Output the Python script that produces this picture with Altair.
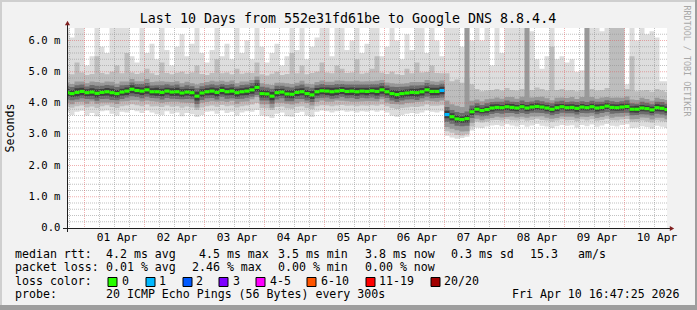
import altair as alt
import pandas as pd

# ---------------- texts ----------------
TITLE = "Last 10 Days from 552e31fd61be to Google DNS 8.8.4.4"
Y_TITLE = "Seconds"
WATERMARK = "RRDTOOL / TOBI OETIKER"

# ---------------- axes ----------------
# time in hours relative to 2026-04-01 00:00
T_START = -7.0
T_END = 233.0
Y_MAX = 6.4
DAY_LABELS = ["01 Apr", "02 Apr", "03 Apr", "04 Apr", "05 Apr",
              "06 Apr", "07 Apr", "08 Apr", "09 Apr", "10 Apr"]
DAY_LABEL_HOURS = [12, 36, 60, 84, 108, 132, 156, 180, 204, 228]
Y_TICKS = [0, 1, 2, 3, 4, 5, 6]
Y_TICK_LABELS = ["0.0", "1.0 m", "2.0 m", "3.0 m", "4.0 m", "5.0 m", "6.0 m"]

# ---------------- data (2 h bins from Mar 31 16:00) ----------------
BIN_START = -8
BIN_HOURS = 2

MED = [
    4.33, 4.30, 4.34, 4.37, 4.33, 4.35, 4.31, 4.34, 4.36, 4.33,
    4.30, 4.35, 4.38, 4.44, 4.40, 4.38, 4.42, 4.36, 4.36, 4.34,
    4.38, 4.35, 4.36, 4.32, 4.35, 4.33, 4.22, 4.32, 4.36, 4.38,
    4.34, 4.40, 4.36, 4.38, 4.33, 4.36, 4.38, 4.42, 4.50, 4.30,
    4.29, 4.22, 4.33, 4.35, 4.29, 4.28, 4.34, 4.36, 4.30, 4.26,
    4.36, 4.39, 4.38, 4.36, 4.38, 4.40, 4.37, 4.38, 4.36, 4.38,
    4.37, 4.39, 4.37, 4.42, 4.36, 4.30, 4.27, 4.30, 4.32, 4.34,
    4.33, 4.36, 4.42, 4.37, 4.37, 4.40, 3.63, 3.56, 3.49, 3.47,
    3.50, 3.72, 3.80, 3.76, 3.79, 3.84, 3.86, 3.85, 3.88, 3.86,
    3.84, 3.88, 3.84, 3.87, 3.89, 3.87, 3.84, 3.80, 3.85, 3.88,
    3.85, 3.86, 3.83, 3.87, 3.85, 3.88, 3.84, 3.86, 3.90, 3.86,
    3.85, 3.87, 3.89, 3.80, 3.80, 3.84, 3.82, 3.78, 3.85, 3.83,
    3.79]

LOSS = [
    0, 0, 0, 0, 0, 0, 0, 0, 0, 0,
    0, 0, 0, 0, 0, 0, 0, 0, 0, 0,
    0, 0, 0, 0, 0, 0, 0, 0, 0, 0,
    0, 0, 0, 0, 0, 0, 0, 0, 0, 0,
    0, 0, 0, 0, 0, 0, 0, 0, 0, 0,
    0, 0, 0, 0, 0, 0, 0, 0, 0, 0,
    0, 0, 0, 0, 0, 0, 0, 0, 0, 0,
    0, 0, 0, 0, 0, 1, 1, 0, 0, 0,
    0, 0, 0, 0, 0, 0, 0, 0, 0, 0,
    0, 0, 0, 0, 0, 0, 0, 0, 0, 0,
    0, 0, 0, 0, 0, 0, 0, 0, 0, 0,
    0, 0, 0, 0, 0, 0, 0, 0, 0, 0,
    0]

MAX = [
    6.4, 6.1, 6.4, 6.4, 5.2, 5.5, 6.4, 5.8, 5.6, 6.4,
    6.4, 6.4, 6.4, 5.5, 5.3, 6.4, 5.6, 5.9, 5.4, 6.4,
    5.7, 5.2, 5.8, 6.2, 5.5, 5.9, 6.4, 5.6, 5.3, 5.7,
    6.4, 5.5, 5.9, 5.4, 6.4, 5.6, 6.0, 5.4, 6.4, 5.8,
    5.3, 5.6, 5.9, 5.2, 5.5, 6.4, 5.7, 6.4, 5.4, 5.8,
    6.1, 6.4, 6.4, 5.5, 6.4, 6.4, 5.7, 6.0, 6.4, 5.6,
    5.9, 6.4, 6.4, 5.5, 5.8, 6.4, 6.0, 5.4, 6.2, 5.7,
    6.4, 6.4, 5.6, 6.4, 6.0, 5.5, 6.4, 6.4, 6.4, 5.8,
    6.4, 6.0, 6.4, 6.0, 6.4, 5.2, 6.4, 5.6, 6.4, 6.4,
    6.4, 6.4, 6.4, 6.3, 5.4, 5.1, 5.5, 6.4, 5.4, 5.5,
    5.3, 5.4, 5.0, 5.05, 6.4, 6.4, 6.4, 6.3, 6.4, 6.4,
    6.4, 6.4, 4.6, 6.4, 6.0, 6.4, 6.2, 6.3, 6.1, 4.7,
    4.7]

HI2 = [
    4.95, 4.92, 5.3, 4.98, 4.90, 4.93, 5.5, 4.96, 4.92, 5.0,
    5.2, 4.95, 5.6, 4.98, 4.93, 4.97, 5.1, 4.95, 4.90, 5.3,
    4.96, 4.92, 4.97, 5.0, 4.94, 4.98, 5.2, 4.93, 4.90, 4.96,
    5.4, 4.95, 4.98, 4.92, 5.1, 4.94, 4.97, 4.96, 5.3, 4.92,
    4.88, 4.94, 5.0, 4.90, 4.93, 5.6, 4.95, 5.2, 4.92, 4.96,
    5.0, 5.3, 4.98, 4.95, 5.2, 5.1, 4.96, 4.98, 5.4, 4.94,
    4.97, 5.1, 5.5, 4.97, 4.93, 5.0, 4.92, 4.90, 5.1, 4.95,
    5.3, 4.98, 4.99, 5.2, 4.96, 4.95, 4.95, 4.70, 4.75, 4.65,
    4.80, 4.60, 4.45, 4.38, 4.40, 4.42, 4.45, 4.40, 4.48, 4.42,
    4.40, 4.45, 4.40, 4.42, 4.50, 4.45, 4.40, 5.80, 4.42, 4.45,
    4.40, 4.42, 4.38, 4.42, 4.40, 4.45, 4.40, 4.42, 4.48, 6.4,
    6.4, 6.4, 4.45, 5.5, 4.38, 4.40, 4.42, 4.36, 4.45, 4.40,
    4.35]

U3 = [
    0.33, 0.31, 0.35, 0.32, 0.30, 0.34, 0.36, 0.31, 0.33, 0.35,
    0.32, 0.34, 0.31, 0.33, 0.30, 0.32, 0.35, 0.31, 0.33, 0.36,
    0.30, 0.32, 0.34, 0.31, 0.33, 0.30, 0.37, 0.32, 0.31, 0.33,
    0.35, 0.31, 0.32, 0.34, 0.30, 0.33, 0.31, 0.32, 0.35, 0.33,
    0.31, 0.36, 0.32, 0.30, 0.34, 0.33, 0.31, 0.35, 0.32, 0.34,
    0.31, 0.33, 0.30, 0.32, 0.34, 0.31, 0.33, 0.32, 0.35, 0.31,
    0.33, 0.31, 0.34, 0.32, 0.30, 0.33, 0.35, 0.32, 0.31, 0.33,
    0.34, 0.31, 0.32, 0.33, 0.31, 0.32, 0.45, 0.40, 0.42, 0.40,
    3.00, 0.35, 0.31, 0.30, 0.33, 0.30, 0.32, 0.29, 0.31, 0.33,
    0.30, 0.32, 3.00, 0.31, 0.30, 0.33, 0.31, 0.29, 0.32, 0.30,
    0.31, 0.33, 0.30, 0.32, 3.00, 0.31, 0.30, 0.32, 0.29, 0.31,
    0.33, 0.30, 0.32, 0.31, 0.30, 0.33, 0.31, 0.29, 0.32, 0.30,
    0.31]

D3 = [
    0.32, 0.34, 0.31, 0.33, 0.35, 0.30, 0.33, 0.32, 0.34, 0.31,
    0.33, 0.30, 0.32, 0.35, 0.31, 0.33, 0.34, 0.30, 0.32, 0.33,
    0.35, 0.31, 0.32, 0.30, 0.34, 0.33, 0.36, 0.31, 0.33, 0.32,
    0.30, 0.34, 0.33, 0.31, 0.35, 0.32, 0.33, 0.30, 0.31, 0.34,
    0.33, 0.37, 0.32, 0.34, 0.31, 0.33, 0.35, 0.32, 0.30, 0.34,
    0.33, 0.31, 0.34, 0.32, 0.30, 0.33, 0.31, 0.34, 0.32, 0.33,
    0.31, 0.33, 0.32, 0.30, 0.34, 0.33, 0.31, 0.35, 0.32, 0.33,
    0.30, 0.32, 0.34, 0.31, 0.33, 0.32, 0.40, 0.38, 0.36, 0.38,
    0.40, 0.35, 0.30, 0.31, 0.29, 0.32, 0.30, 0.31, 0.33, 0.29,
    0.30, 0.32, 0.31, 0.30, 0.32, 0.29, 0.31, 0.30, 0.33, 0.31,
    0.29, 0.30, 0.32, 0.31, 0.30, 0.29, 0.32, 0.31, 0.30, 0.33,
    0.29, 0.31, 0.30, 0.32, 0.31, 0.30, 0.29, 0.31, 0.32, 0.30,
    0.31]

S4 = [
    0.22, 0.21, 0.23, 0.22, 0.20, 0.23, 0.24, 0.21, 0.22, 0.23,
    0.21, 0.22, 0.20, 0.22, 0.21, 0.23, 0.22, 0.20, 0.21, 0.23,
    0.22, 0.21, 0.23, 0.20, 0.22, 0.21, 0.25, 0.22, 0.21, 0.22,
    0.23, 0.21, 0.22, 0.23, 0.20, 0.22, 0.21, 0.22, 0.24, 0.22,
    0.21, 0.24, 0.22, 0.20, 0.23, 0.22, 0.21, 0.23, 0.22, 0.23,
    0.21, 0.22, 0.20, 0.22, 0.23, 0.21, 0.22, 0.21, 0.23, 0.21,
    0.22, 0.21, 0.23, 0.22, 0.20, 0.22, 0.24, 0.22, 0.21, 0.22,
    0.23, 0.21, 0.22, 0.22, 0.21, 0.22, 0.24, 0.22, 0.22, 0.21,
    0.23, 0.20, 0.19, 0.18, 0.20, 0.19, 0.18, 0.19, 0.20, 0.18,
    0.19, 0.20, 0.19, 0.18, 0.20, 0.19, 0.18, 0.19, 0.20, 0.19,
    0.18, 0.19, 0.20, 0.19, 0.18, 0.19, 0.20, 0.18, 0.19, 0.20,
    0.18, 0.19, 0.20, 0.19, 0.18, 0.20, 0.19, 0.18, 0.19, 0.20,
    0.19]

S5 = [
    0.12, 0.11, 0.13, 0.12, 0.11, 0.12, 0.13, 0.11, 0.12, 0.13,
    0.12, 0.11, 0.12, 0.13, 0.11, 0.12, 0.12, 0.11, 0.13, 0.12,
    0.11, 0.12, 0.13, 0.12, 0.11, 0.12, 0.14, 0.12, 0.11, 0.12,
    0.13, 0.12, 0.11, 0.12, 0.13, 0.11, 0.12, 0.12, 0.13, 0.12,
    0.11, 0.13, 0.12, 0.11, 0.12, 0.13, 0.12, 0.11, 0.12, 0.13,
    0.12, 0.11, 0.12, 0.13, 0.12, 0.11, 0.12, 0.12, 0.13, 0.11,
    0.12, 0.11, 0.13, 0.12, 0.11, 0.12, 0.13, 0.12, 0.11, 0.12,
    0.13, 0.12, 0.11, 0.12, 0.12, 0.12, 0.12, 0.11, 0.11, 0.10,
    0.12, 0.10, 0.10, 0.09, 0.10, 0.11, 0.10, 0.09, 0.10, 0.11,
    0.10, 0.09, 0.10, 0.11, 0.10, 0.09, 0.10, 0.10, 0.11, 0.09,
    0.10, 0.10, 0.11, 0.10, 0.09, 0.10, 0.11, 0.10, 0.09, 0.10,
    0.10, 0.11, 0.09, 0.10, 0.11, 0.10, 0.09, 0.10, 0.11, 0.10,
    0.10]

LO2 = [
    3.88, 3.85, 3.90, 3.92, 3.86, 3.89, 3.84, 3.90, 3.93, 3.87,
    3.84, 3.90, 3.92, 3.96, 3.93, 3.90, 3.95, 3.89, 3.90, 3.87,
    3.92, 3.88, 3.90, 3.85, 3.89, 3.86, 3.78, 3.86, 3.90, 3.92,
    3.88, 3.94, 3.90, 3.92, 3.86, 3.90, 3.92, 3.95, 4.00, 3.84,
    3.83, 3.78, 3.87, 3.89, 3.83, 3.82, 3.88, 3.90, 3.84, 3.80,
    3.90, 3.93, 3.92, 3.90, 3.92, 3.94, 3.91, 3.92, 3.90, 3.92,
    3.91, 3.93, 3.91, 3.95, 3.90, 3.84, 3.81, 3.84, 3.86, 3.88,
    3.87, 3.90, 3.95, 3.91, 3.91, 3.93, 3.10, 3.05, 2.98, 2.96,
    3.00, 3.25, 3.40, 3.38, 3.40, 3.45, 3.46, 3.44, 3.48, 3.45,
    3.44, 3.47, 3.43, 3.46, 3.50, 3.46, 3.44, 3.40, 3.44, 3.48,
    3.45, 3.46, 3.42, 3.47, 3.44, 3.48, 3.43, 3.46, 3.50, 3.45,
    3.44, 3.47, 3.49, 3.40, 3.40, 3.44, 3.41, 3.38, 3.45, 3.42,
    3.39]

MIN = [
    3.70, 3.62, 3.72, 3.75, 3.60, 3.68, 3.58, 3.74, 3.76, 3.66,
    3.60, 3.72, 3.70, 3.78, 3.74, 3.68, 3.76, 3.70, 3.64, 3.62,
    3.74, 3.66, 3.70, 3.58, 3.68, 3.64, 3.55, 3.62, 3.72, 3.74,
    3.66, 3.76, 3.68, 3.72, 3.60, 3.70, 3.74, 3.72, 3.78, 3.60,
    3.58, 3.52, 3.66, 3.70, 3.58, 3.56, 3.68, 3.72, 3.60, 3.55,
    3.72, 3.76, 3.74, 3.70, 3.74, 3.76, 3.72, 3.74, 3.70, 3.74,
    3.72, 3.76, 3.72, 3.76, 3.70, 3.60, 3.56, 3.62, 3.66, 3.68,
    3.66, 3.70, 3.76, 3.72, 3.70, 3.74, 2.95, 2.90, 2.86, 2.88,
    2.92, 3.12, 3.22, 3.20, 3.25, 3.28, 3.30, 3.26, 3.32, 3.28,
    3.25, 3.30, 3.24, 3.28, 3.33, 3.27, 3.25, 3.20, 3.26, 3.30,
    3.27, 3.29, 3.22, 3.30, 3.26, 3.31, 3.24, 3.28, 3.33, 3.27,
    3.25, 3.30, 3.32, 3.20, 3.22, 3.26, 3.23, 3.18, 3.27, 3.24,
    3.20]

# ---------------- legend texts ----------------
LEGEND_ROWS = [
    [("median rtt:", 16), ("4.2 ms avg", 107), ("4.5 ms max", 200),
     ("3.5 ms min", 279), ("3.8 ms now", 366), ("0.3 ms sd", 452),
     ("15.3", 531), ("am/s", 579)],
    [("packet loss:", 16), ("0.01 % avg", 107), ("2.46 % max", 193),
     ("0.00 % min", 279), ("0.00 % now", 366)],
    [("loss color:", 16)],
    [("probe:", 16), ("20 ICMP Echo Pings (56 Bytes) every 300s", 107),
     ("Fri Apr 10 16:47:25 2026", 513)],
]
LEGEND_ROW_Y = [255, 268, 282, 295]
LOSS_LABELS = ["0", "1", "2", "3", "4-5", "6-10", "11-19", "20/20"]
LOSS_COLORS = ["#26ff00", "#00b8ff", "#0059ff", "#7e00ff",
               "#ff00ff", "#ff5500", "#ff0000", "#a10000"]
LOSS_BOX_X = [108, 146, 183, 219, 256, 307, 366, 431]
LOSS_TEXT_X = [123, 160, 197, 234, 271, 322, 380, 445]

SMOKE_COLORS = ["#dddddd", "#bdbdbd", "#999999", "#6c6c6c", "#3e3e3e"]

# ---------------- layout ----------------
PAD_L, PAD_T, PLOT_W, PLOT_H = 67, 28, 600, 200
FONT = "DejaVu Sans Mono"

xs = alt.Scale(domain=[T_START, T_END], nice=False, zero=False)
ys = alt.Scale(domain=[0, Y_MAX], nice=False, zero=False)
N = len(MED)
one = pd.DataFrame({"a": [0]})
layers = []

# smoke bands
hours = [BIN_START + i * BIN_HOURS for i in range(N)] + [BIN_START + N * BIN_HOURS]
for k, col in enumerate(SMOKE_COLORS):
    lo, hi = [], []
    for i in range(N):
        m = MED[i]
        e = [(MIN[i], MAX[i]), (LO2[i], HI2[i]), (m - D3[i], m + U3[i]),
             (m - S4[i], m + S4[i]), (m - S5[i], m + S5[i])][k]
        lo.append(e[0])
        hi.append(min(e[1], Y_MAX + 0.3))
    lo.append(lo[-1])
    hi.append(hi[-1])
    df = pd.DataFrame({"h": hours, "lo": lo, "hi": hi})
    layers.append(
        alt.Chart(df).mark_area(interpolate="step-after", color=col, clip=True).encode(
            x=alt.X("h:Q", scale=xs, axis=None),
            y=alt.Y("lo:Q", scale=ys, axis=None),
            y2="hi:Q",
        )
    )

# grid
VG_MINOR = [h for h in range(-6, 233, 6) if h % 24 != 0]
VG_MAJOR = list(range(0, 233, 24))
HG_MINOR = [round(0.2 * j, 1) for j in range(1, 32) if j % 5 != 0]
HG_MAJOR = [1, 2, 3, 4, 5, 6]
GRID = dict(color="#8f8f8f", opacity=0.55, strokeDash=[1, 1], strokeWidth=1)
MGRID = dict(color="#de4f4f", opacity=0.45, strokeDash=[1, 1], strokeWidth=1)
layers += [
    alt.Chart(pd.DataFrame({"h": VG_MINOR})).mark_rule(**GRID).encode(x=alt.X("h:Q", scale=xs, axis=None)),
    alt.Chart(pd.DataFrame({"v": HG_MINOR})).mark_rule(**GRID).encode(y=alt.Y("v:Q", scale=ys, axis=None)),
    alt.Chart(pd.DataFrame({"h": VG_MAJOR})).mark_rule(**MGRID).encode(x=alt.X("h:Q", scale=xs, axis=None)),
    alt.Chart(pd.DataFrame({"v": HG_MAJOR})).mark_rule(**MGRID).encode(y=alt.Y("v:Q", scale=ys, axis=None)),
]

# median line coloured by loss
med_df = pd.DataFrame({
    "h0": hours[:-1],
    "h1": [h + BIN_HOURS for h in hours[:-1]],
    "lo": [m - 0.05 for m in MED],
    "hi": [m + 0.05 for m in MED],
    "c": [LOSS_COLORS[l] for l in LOSS],
})
layers.append(
    alt.Chart(med_df).mark_rect(clip=True).encode(
        x=alt.X("h0:Q", scale=xs, axis=None), x2="h1:Q",
        y=alt.Y("lo:Q", scale=ys, axis=None), y2="hi:Q",
        color=alt.Color("c:N", scale=None),
    )
)

# axis lines and arrows
AXIS_C = "#1f1f1f"
ARROW_C = "#801f1f"
layers += [
    alt.Chart(one).mark_rule(color=AXIS_C).encode(
        x=alt.value(-4), x2=alt.value(PLOT_W + 4), y=alt.value(PLOT_H + 0.5)),
    alt.Chart(one).mark_rule(color=AXIS_C).encode(
        x=alt.value(0.5), y=alt.value(-4), y2=alt.value(PLOT_H + 4)),
    alt.Chart(one).mark_point(shape="triangle-right", filled=True, size=26, color=ARROW_C, opacity=1).encode(
        x=alt.value(PLOT_W + 5), y=alt.value(PLOT_H + 0.5)),
    alt.Chart(one).mark_point(shape="triangle-up", filled=True, size=26, color=ARROW_C, opacity=1).encode(
        x=alt.value(0.5), y=alt.value(-5)),
]

# tick labels
layers.append(
    alt.Chart(pd.DataFrame({"v": Y_TICKS, "t": Y_TICK_LABELS})).mark_text(
        font=FONT, fontSize=10.6, align="right", baseline="middle", color="#000000").encode(
        y=alt.Y("v:Q", scale=ys, axis=None), x=alt.value(-6.5), text="t:N")
)
layers.append(
    alt.Chart(pd.DataFrame({"h": DAY_LABEL_HOURS, "t": DAY_LABELS})).mark_text(
        font=FONT, fontSize=11.2, align="center", baseline="middle", dx=2.5, color="#000000").encode(
        x=alt.X("h:Q", scale=xs, axis=None), y=alt.value(238 - PAD_T), text="t:N")
)

# title, axis title, watermark
layers += [
    alt.Chart(one).mark_text(text=TITLE, font=FONT, fontSize=13.3, align="center",
                             baseline="middle", color="#000000").encode(
        x=alt.value(348 - PAD_L), y=alt.value(18.5 - PAD_T)),
    alt.Chart(one).mark_text(text=Y_TITLE, font=FONT, fontSize=11.6, angle=270, align="center",
                             baseline="middle", color="#000000").encode(
        x=alt.value(11 - PAD_L), y=alt.value(PLOT_H / 2)),
    alt.Chart(one).mark_text(text=WATERMARK, font=FONT, fontSize=8.4, angle=90, align="center",
                             baseline="middle", color="#a8a8a8").encode(
        x=alt.value(687 - PAD_L), y=alt.value(61 - PAD_T)),
]

# legend
leg = []
for row, yy in zip(LEGEND_ROWS, LEGEND_ROW_Y):
    for t, xx in row:
        leg.append({"t": t, "px": xx - 1 - PAD_L, "py": yy - PAD_T})
for t, xx in zip(LOSS_LABELS, LOSS_TEXT_X):
    leg.append({"t": t, "px": xx - 1 - PAD_L, "py": LEGEND_ROW_Y[2] - PAD_T})
layers.append(
    alt.Chart(pd.DataFrame(leg)).mark_text(font=FONT, fontSize=11.6, align="left",
                                            baseline="middle", color="#000000").encode(
        x=alt.X("px:Q", scale=None, axis=None), y=alt.Y("py:Q", scale=None, axis=None), text="t:N")
)
boxes = pd.DataFrame({
    "x0": [bx - PAD_L for bx in LOSS_BOX_X],
    "x1": [bx + 9 - PAD_L for bx in LOSS_BOX_X],
    "y0": [LEGEND_ROW_Y[2] - 4.5 - PAD_T] * len(LOSS_BOX_X),
    "y1": [LEGEND_ROW_Y[2] + 4.5 - PAD_T] * len(LOSS_BOX_X),
    "c": LOSS_COLORS,
})
layers.append(
    alt.Chart(boxes).mark_rect(stroke="#000000", strokeWidth=1).encode(
        x=alt.X("x0:Q", scale=None, axis=None), x2="x1:Q",
        y=alt.Y("y0:Q", scale=None, axis=None), y2="y1:Q",
        color=alt.Color("c:N", scale=None))
)

# 3d frame
frame = pd.DataFrame({
    "x0": [0, 0, 0, 695], "x1": [697, 2, 697, 697],
    "y0": [0, 0, 305, 0], "y1": [2, 310, 310, 310],
    "c": ["#cfcfcf", "#cfcfcf", "#9e9e9e", "#9e9e9e"],
})
frame = frame.assign(x0=frame.x0 - PAD_L, x1=frame.x1 - PAD_L, y0=frame.y0 - PAD_T, y1=frame.y1 - PAD_T)
layers.append(
    alt.Chart(frame).mark_rect().encode(
        x=alt.X("x0:Q", scale=None, axis=None), x2="x1:Q",
        y=alt.Y("y0:Q", scale=None, axis=None), y2="y1:Q",
        color=alt.Color("c:N", scale=None))
)

chart = alt.layer(*layers).resolve_scale(x="independent", y="independent").properties(
    width=PLOT_W, height=PLOT_H,
    padding={"left": PAD_L, "top": PAD_T, "right": 697 - PAD_L - PLOT_W, "bottom": 310 - PAD_T - PLOT_H},
    autosize=alt.AutoSizeParams(type="none"),
).configure(background="#f2f2f2").configure_view(stroke=None, fill="#ffffff")

chart.save("out.html", embed_options={"renderer": "svg", "actions": False})
